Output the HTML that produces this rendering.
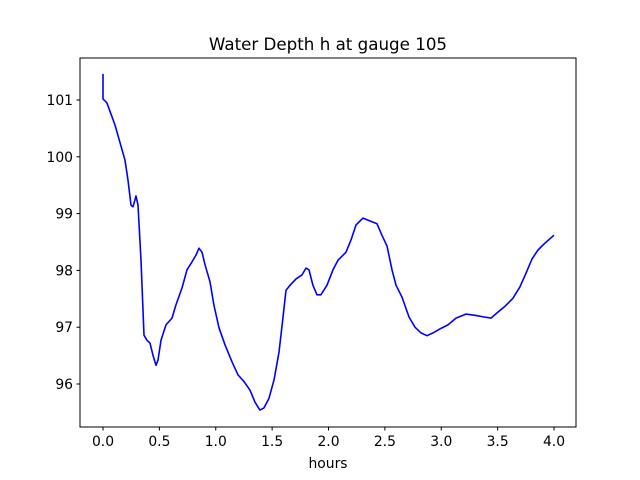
<!DOCTYPE html>
<html><head><meta charset="utf-8"><style>
body{margin:0;background:#fff;}
svg{display:block;font-family:"DejaVu Sans","Liberation Sans",sans-serif;}
</style></head><body>
<svg width="640" height="480">
<rect width="640" height="480" fill="#fff"/>
<text x="328" y="50" font-size="16.7" text-anchor="middle">Water Depth h at gauge 105</text>
<g id="xticks"></g>
<g id="yticks"></g>
<path id="line" fill="none" stroke="#0000ff" stroke-width="1.6" stroke-linejoin="round"/>
<rect x="80" y="58" width="496" height="369" fill="none" stroke="#000" stroke-width="1"/>
<text x="328" y="468" font-size="13.9" text-anchor="middle">hours</text>
</svg>
<script>
const hours=[0,0,0.035,0.106,0.195,0.222,0.248,0.266,0.293,0.310,0.337,0.364,0.390,0.417,0.443,0.470,0.488,0.514,0.559,0.612,0.647,0.701,0.745,0.789,0.825,0.851,0.878,0.905,0.949,0.984,1.029,1.082,1.144,1.197,1.251,1.304,1.348,1.392,1.428,1.472,1.517,1.561,1.596,1.623,1.659,1.712,1.765,1.800,1.827,1.862,1.898,1.933,1.987,2.040,2.084,2.155,2.200,2.244,2.306,2.368,2.430,2.474,2.519,2.563,2.599,2.652,2.714,2.767,2.820,2.874,2.927,2.989,3.060,3.131,3.219,3.299,3.379,3.441,3.494,3.565,3.636,3.698,3.752,3.805,3.858,3.920,4.000];
const depth=[101.46,101.02,100.95,100.56,99.94,99.59,99.15,99.12,99.31,99.15,98.18,96.86,96.77,96.72,96.51,96.33,96.42,96.77,97.04,97.16,97.39,97.69,98.01,98.15,98.27,98.39,98.32,98.10,97.80,97.39,96.99,96.69,96.39,96.16,96.04,95.89,95.68,95.54,95.58,95.75,96.07,96.56,97.16,97.65,97.74,97.85,97.92,98.04,98.01,97.74,97.57,97.57,97.74,98.01,98.18,98.32,98.54,98.80,98.92,98.87,98.82,98.62,98.43,98.01,97.74,97.53,97.18,97.00,96.90,96.85,96.90,96.97,97.04,97.16,97.23,97.21,97.18,97.16,97.25,97.37,97.51,97.71,97.95,98.20,98.36,98.48,98.62];
const xTicks=[0,0.5,1,1.5,2,2.5,3,3.5,4];
const xTickLabels=["0.0","0.5","1.0","1.5","2.0","2.5","3.0","3.5","4.0"];
const yTicks=[96,97,98,99,100,101];
const yTickLabels=["96","97","98","99","100","101"];
const sx=v=>103+v*112.75;
const sy=v=>100+(101-v)*56.8;
const NS="http://www.w3.org/2000/svg";
const xg=document.getElementById('xticks'),yg=document.getElementById('yticks');
xTicks.forEach((t,i)=>{
 const l=document.createElementNS(NS,'line');
 l.setAttribute('x1',sx(t));l.setAttribute('x2',sx(t));l.setAttribute('y1',427);l.setAttribute('y2',430.5);l.setAttribute('stroke','#000');
 
 
 xg.appendChild(l);
 const tx=document.createElementNS(NS,'text');
 tx.setAttribute('x',sx(t));tx.setAttribute('y',446);tx.setAttribute('font-size','13.9');tx.setAttribute('text-anchor','middle');
 tx.textContent=xTickLabels[i];
 
 
 xg.appendChild(tx);
});
yTicks.forEach((t,i)=>{
 const l=document.createElementNS(NS,'line');
 l.setAttribute('x1',76.5);l.setAttribute('x2',80);l.setAttribute('y1',sy(t));l.setAttribute('y2',sy(t));l.setAttribute('stroke','#000');
 
 
 yg.appendChild(l);
 const tx=document.createElementNS(NS,'text');
 tx.setAttribute('x',73);tx.setAttribute('y',sy(t)+5);tx.setAttribute('font-size','13.9');tx.setAttribute('text-anchor','end');
 tx.textContent=yTickLabels[i];
 
 
 yg.appendChild(tx);
});
document.getElementById('line').setAttribute('d',hours.map((h,i)=>(i?'L':'M')+sx(h).toFixed(1)+','+sy(depth[i]).toFixed(1)).join(' '));
</script>
</body></html>
